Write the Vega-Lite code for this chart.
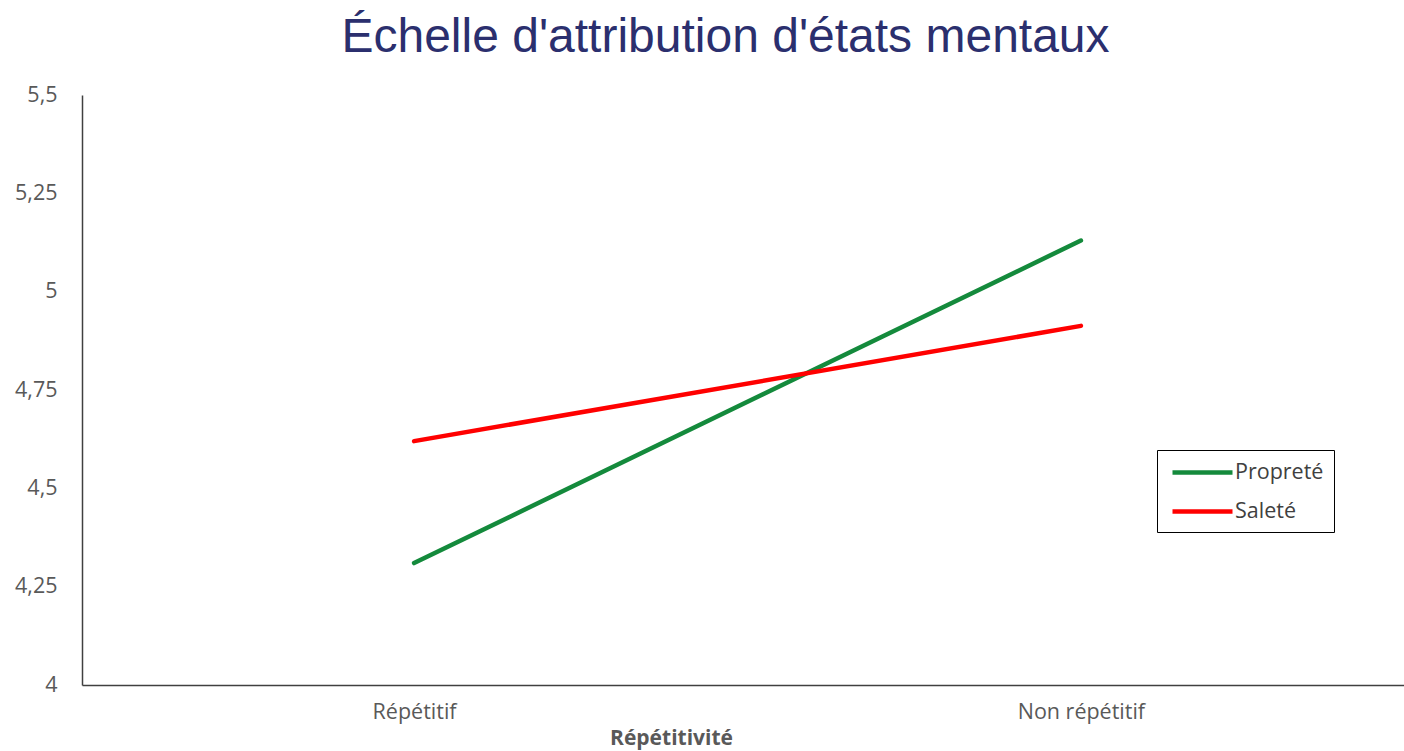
{
  "$schema": "https://vega.github.io/schema/vega-lite/v6.json",
  "autosize": "none",
  "padding": {"left": 82, "top": 95, "right": 0, "bottom": 66},
  "width": 1331,
  "height": 590,
  "background": "white",
  "title": {
    "text": "Échelle d'attribution d'états mentaux",
    "font": "Liberation Sans",
    "fontSize": 48,
    "fontWeight": "normal",
    "color": "#2b2f6e",
    "anchor": "middle",
    "baseline": "alphabetic",
    "dx": -22,
    "offset": -16
  },
  "data": {
    "values": [
      {"rep": "Répétitif", "cond": "Propreté", "score": 4.31},
      {"rep": "Non répétitif", "cond": "Propreté", "score": 5.13},
      {"rep": "Répétitif", "cond": "Saleté", "score": 4.62},
      {"rep": "Non répétitif", "cond": "Saleté", "score": 4.913}
    ]
  },
  "mark": {"type": "line", "strokeWidth": 4.5, "strokeCap": "round"},
  "encoding": {
    "x": {
      "field": "rep",
      "type": "nominal",
      "sort": ["Répétitif", "Non répétitif"],
      "scale": {"type": "point", "padding": 0.498},
      "axis": {
        "title": "Répétitivité",
        "titleFont": "Open Sans",
        "titleFontSize": 21,
        "titleFontWeight": "bold",
        "titleColor": "#595959",
        "titleX": 589,
        "titleY": 59,
        "titleBaseline": "alphabetic",
        "labelFont": "Open Sans",
        "labelFontSize": 21.5,
        "labelColor": "#595959",
        "labelAngle": 0,
        "labelPadding": 16,
        "ticks": false,
        "domainColor": "#404040",
        "domainWidth": 1.5,
        "grid": false
      }
    },
    "y": {
      "field": "score",
      "type": "quantitative",
      "scale": {"domain": [4, 5.5], "nice": false, "zero": false},
      "axis": {
        "title": null,
        "values": [4, 4.25, 4.5, 4.75, 5, 5.25, 5.5],
        "labelExpr": "replace(format(datum.value, '.2~f'), '.', ',')",
        "labelFont": "Open Sans",
        "labelFontSize": 21.5,
        "labelColor": "#595959",
        "labelPadding": 25,
        "ticks": false,
        "grid": false,
        "domainColor": "#404040",
        "domainWidth": 1.5
      }
    },
    "color": {
      "field": "cond",
      "type": "nominal",
      "scale": {"domain": ["Propreté", "Saleté"], "range": ["#148a3c", "#ff0000"]},
      "legend": {
        "title": null,
        "orient": "none",
        "legendX": 1075,
        "legendY": 355,
        "strokeColor": "#000000",
        "fillColor": "white",
        "padding": 10,
        "symbolType": "M-3,0H3",
        "symbolSize": 400,
        "symbolStrokeWidth": 4.5,
        "symbolOffset": 23,
        "rowPadding": 16,
        "labelFont": "Open Sans",
        "labelFontSize": 21.5,
        "labelColor": "#404040",
        "labelOffset": 20
      }
    }
  },
  "config": {"view": {"stroke": null}}
}
